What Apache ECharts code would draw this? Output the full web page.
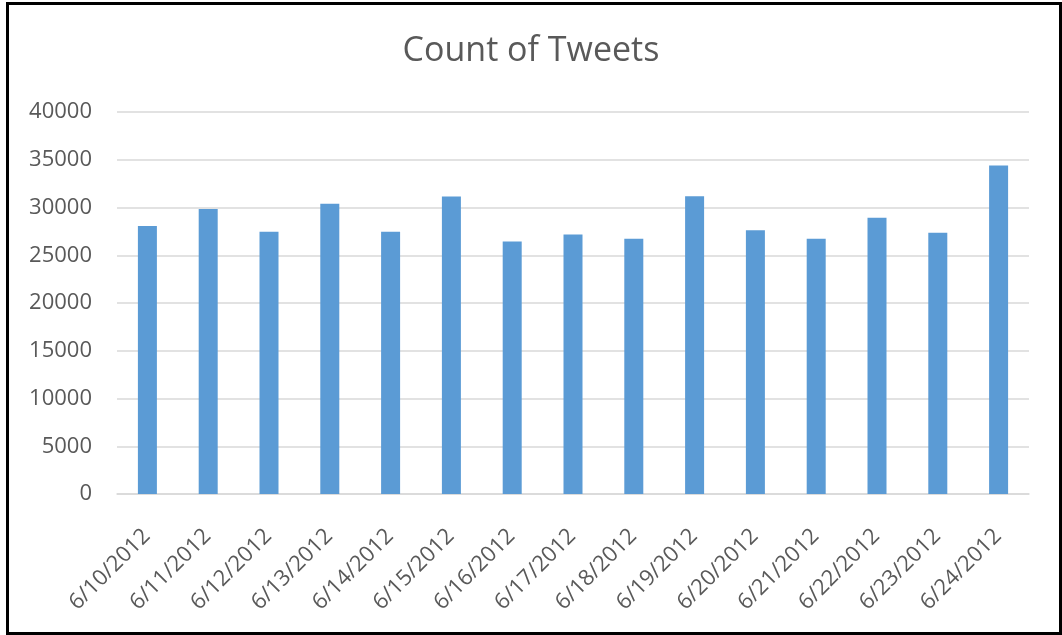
<!DOCTYPE html>
<html>
<head>
<meta charset="utf-8">
<script src="https://cdn.jsdelivr.net/npm/echarts@6/dist/echarts.min.js"></script>
<style>
  html, body { margin: 0; padding: 0; background: #fff; }
  #frame { position: absolute; left: 6px; top: 2px; width: 1050px; height: 627px; border: 3px solid #000; background: #fff; }
  #chart { position: absolute; left: -9px; top: -5px; width: 1062px; height: 635px; }
</style>
</head>
<body>
<div id="frame"><div id="chart"></div></div>
<script>
// Daily tweet counts, 10–24 June 2012
const dates = ['6/10/2012', '6/11/2012', '6/12/2012', '6/13/2012', '6/14/2012',
  '6/15/2012', '6/16/2012', '6/17/2012', '6/18/2012', '6/19/2012',
  '6/20/2012', '6/21/2012', '6/22/2012', '6/23/2012', '6/24/2012'];
const tweetCounts = [28050, 29840, 27450, 30400, 27450,
  31140, 26430, 27170, 26720, 31170,
  27630, 26720, 28930, 27350, 34390];
const yTicks = { min: 0, max: 40000, interval: 5000 };

const textColor = '#595959';
const fontFamily = '"Open Sans", "Noto Sans", sans-serif';

const chart = echarts.init(document.getElementById('chart'), null, { renderer: 'canvas' });
chart.setOption({
  animation: false,
  backgroundColor: 'transparent',
  title: {
    text: 'Count of Tweets',
    left: 'center',
    top: 29,
    textStyle: { color: textColor, fontFamily: fontFamily, fontSize: 34, fontWeight: 'normal' }
  },
  grid: { left: 117, right: 33, top: 112, bottom: 141 },
  xAxis: {
    type: 'category',
    data: dates,
    axisLine: { lineStyle: { color: '#d9d9d9', width: 1.5 } },
    axisTick: { show: false },
    axisLabel: {
      rotate: 45,
      margin: 38,
      padding: [0, 1, 0, 0],
      color: textColor,
      fontFamily: fontFamily,
      fontSize: 22
    }
  },
  yAxis: {
    type: 'value',
    min: yTicks.min,
    max: yTicks.max,
    interval: yTicks.interval,
    axisLine: { show: false },
    axisTick: { show: false },
    splitLine: { lineStyle: { color: '#d9d9d9', width: 1.5 } },
    axisLabel: {
      margin: 25,
      color: textColor,
      fontFamily: fontFamily,
      fontSize: 22,
      formatter: (v) => String(v)
    }
  },
  series: [{
    type: 'bar',
    data: tweetCounts,
    barWidth: 19,
    itemStyle: { color: '#5b9bd5' }
  }]
});
</script>
</body>
</html>
